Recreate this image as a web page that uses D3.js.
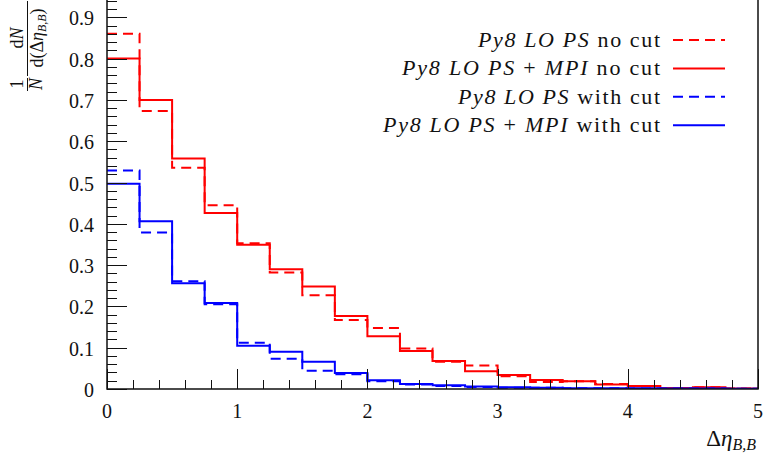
<!DOCTYPE html>
<html>
<head>
<meta charset="utf-8">
<script src="https://cdn.jsdelivr.net/npm/d3@7"></script>
<style>
  html, body { margin: 0; padding: 0; background: #fff; }
  svg { display: block; }
  text { font-family: "Liberation Serif", "Times New Roman", serif; fill: #111; }
</style>
</head>
<body>
<svg id="chart" width="766" height="457"></svg>
<script>
// ---- data ----
const binEdges = d3.range(0, 5.0001, 0.25);
const py8NoCut      = [0.860, 0.673, 0.536, 0.445, 0.353, 0.282, 0.227, 0.167, 0.148, 0.098, 0.066, 0.057, 0.031, 0.017, 0.019, 0.012, 0.0065, 0.0025, 0.0045, 0.001];
const py8MpiNoCut   = [0.800, 0.700, 0.558, 0.426, 0.349, 0.290, 0.248, 0.177, 0.128, 0.092, 0.068, 0.043, 0.034, 0.022, 0.019, 0.011, 0.0073, 0.0025, 0.0045, 0.001];
const py8Cut        = [0.529, 0.379, 0.261, 0.205, 0.112, 0.073, 0.044, 0.036, 0.019, 0.011, 0.007, 0.005, 0.003, 0.003, 0.002, 0.002, 0.001, 0.001, 0.001, 0.0005];
const py8MpiCut     = [0.497, 0.406, 0.256, 0.208, 0.105, 0.090, 0.066, 0.039, 0.021, 0.012, 0.009, 0.006, 0.004, 0.003, 0.002, 0.002, 0.002, 0.001, 0.001, 0.0005];
const xTickLabels = ["0", "1", "2", "3", "4", "5"];
const yTickLabels = ["0", "0.1", "0.2", "0.3", "0.4", "0.5", "0.6", "0.7", "0.8", "0.9"];
const seriesNames = ["no cut", "no cut", "with cut", "with cut"];

const series = [
  { vals: py8NoCut,    color: "#ff0000", dash: "10,6", mpi: false, tail: seriesNames[0], w: 182 },
  { vals: py8MpiNoCut, color: "#ff0000", dash: null,   mpi: true,  tail: seriesNames[1], w: 258 },
  { vals: py8Cut,      color: "#0000ff", dash: "10,6", mpi: false, tail: seriesNames[2], w: 202 },
  { vals: py8MpiCut,   color: "#0000ff", dash: null,   mpi: true,  tail: seriesNames[3], w: 277 }
];

// ---- layout ----
const svg = d3.select("#chart");
const L = 107, R = 758, B = 389;
const x = d3.scaleLinear().domain([0, 5]).range([L, R]);
const y = d3.scaleLinear().domain([0, 1]).range([B, B - 413]);

svg.append("defs").append("clipPath").attr("id", "clip")
  .append("rect").attr("x", L).attr("y", y(1)).attr("width", R - L).attr("height", B - y(1));

// histograms
const line = d3.line().x(d => x(d[0])).y(d => y(d[1])).curve(d3.curveStepAfter);
const gData = svg.append("g").attr("clip-path", "url(#clip)");
series.forEach(s => {
  const pts = s.vals.map((v, i) => [binEdges[i], v]);
  pts.push([binEdges[binEdges.length - 1], s.vals[s.vals.length - 1]]);
  gData.append("path")
    .attr("d", line(pts))
    .attr("fill", "none")
    .attr("stroke", s.color)
    .attr("stroke-width", 2)
    .attr("stroke-dasharray", s.dash);
});

// ticks
const gT = svg.append("g").attr("stroke", "#111").attr("stroke-width", 1);
d3.range(0, 0.95, 0.02).forEach((v, i) => {
  const major = i % 5 === 0;
  const yy = Math.round(y(v)) + 0.5;
  gT.append("line").attr("x1", L).attr("x2", L + (major ? 20 : 10)).attr("y1", yy).attr("y2", yy);
});
d3.range(0, 5.001, 0.2).forEach((v, i) => {
  const major = i % 5 === 0;
  const xx = Math.round(x(v)) + 0.5;
  gT.append("line").attr("x1", xx).attr("x2", xx).attr("y1", B).attr("y2", B - (major ? 20 : 9));
});

// frame
svg.append("path")
  .attr("d", `M${L},${y(1)}V${B}H${R}V${y(1)}`)
  .attr("fill", "none").attr("stroke", "#111").attr("stroke-width", 1.5);

// tick labels
yTickLabels.forEach(t => {
  svg.append("text").attr("x", 94).attr("y", y(+t) + 8)
    .attr("text-anchor", "end").attr("font-size", 20).text(t);
});
xTickLabels.forEach(t => {
  svg.append("text").attr("x", x(+t)).attr("y", 418)
    .attr("text-anchor", "middle").attr("font-size", 20).text(t);
});

// x label
const xl = svg.append("text").attr("x", 756).attr("y", 446).attr("text-anchor", "end").attr("font-size", 23);
xl.append("tspan").text("Δ");
xl.append("tspan").attr("font-style", "italic").text("η");
xl.append("tspan").attr("font-style", "italic").attr("font-size", 16).attr("dy", 4).text("B,B");

// y label (rotated fraction)
const gy = svg.append("g").attr("transform", "rotate(-90)");
gy.append("text").attr("x", -84).attr("y", 23).attr("text-anchor", "middle").attr("font-size", 18).text("1");
gy.append("text").attr("x", -84).attr("y", 42).attr("text-anchor", "middle").attr("font-size", 18).attr("font-style", "italic").text("N");
gy.append("line").attr("x1", -78).attr("x2", -91).attr("y1", 27.5).attr("y2", 27.5).attr("stroke", "#111").attr("stroke-width", 1);
const dn = gy.append("text").attr("x", -38).attr("y", 23).attr("text-anchor", "middle").attr("font-size", 18);
dn.append("tspan").text("d");
dn.append("tspan").attr("font-style", "italic").text("N");
gy.append("line").attr("x1", -1).attr("x2", -76).attr("y1", 27.5).attr("y2", 27.5).attr("stroke", "#111").attr("stroke-width", 1);
const dd = gy.append("text").attr("x", -38).attr("y", 43).attr("text-anchor", "middle").attr("font-size", 18);
dd.append("tspan").text("d(Δ");
dd.append("tspan").attr("font-style", "italic").text("η");
dd.append("tspan").attr("font-style", "italic").attr("font-size", 12).attr("dy", 3).text("B,B");
dd.append("tspan").attr("dy", -3).text(")");

// legend
series.forEach((s, i) => {
  const ly = 40 + i * 28.4;
  const t = svg.append("text").attr("x", 660).attr("y", ly + 6.7).attr("text-anchor", "end")
    .attr("font-size", 22).attr("textLength", s.w).attr("lengthAdjust", "spacing");
  t.append("tspan").attr("font-style", "italic").text("Py8 LO PS");
  if (s.mpi) {
    t.append("tspan").text(" + ");
    t.append("tspan").attr("font-style", "italic").text("MPI");
  }
  t.append("tspan").text(" " + s.tail);
  svg.append("line").attr("x1", 673).attr("x2", 725).attr("y1", ly).attr("y2", ly)
    .attr("stroke", s.color).attr("stroke-width", 2).attr("stroke-dasharray", s.dash);
});
</script>
</body>
</html>
